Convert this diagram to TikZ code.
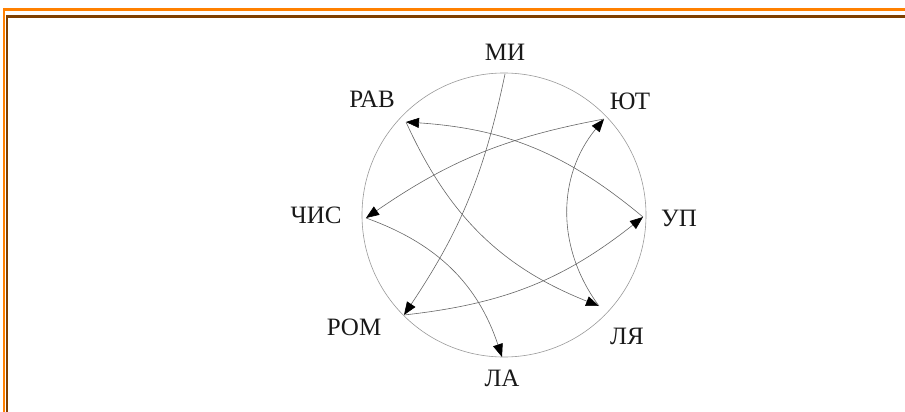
\documentclass[tikz,border=0pt]{standalone}
\usepackage{fontspec}
\setmainfont{Liberation Serif}
\usetikzlibrary{arrows.meta}
\definecolor{frameorange}{HTML}{FF8000}
\definecolor{framebrown}{HTML}{7F4000}

\begin{document}
\begin{tikzpicture}[x=1pt,y=-1pt,
    lbl/.style={font=\fontsize{25}{30}\selectfont, text=black!90, inner sep=0pt},
    rel/.style={draw=black!60, line width=0.6pt, -{Triangle[length=13pt,width=10pt,color=black]}}]
    \useasboundingbox (0,0) rectangle (905,412);
    % frame
    \draw[frameorange, line width=2.6pt] (905,9.3) -- (3.3,9.3);
    \draw[frameorange, line width=2pt] (4.3,8) -- (4.3,412);
    \draw[framebrown, line width=2.6pt] (905,16.3) -- (5.7,16.3);
    \draw[framebrown, line width=2pt] (6.7,15) -- (6.7,412);
    % circle
    \draw[black!40, line width=0.6pt] (504,215) circle (142pt);
    % points on the circle
    \coordinate (mi)   at (505,74);
    \coordinate (yut)  at (604,119);
    \coordinate (up)   at (643,217);
    \coordinate (lya)  at (599,306);
    \coordinate (la)   at (502,357);
    \coordinate (rom)  at (404,315);
    \coordinate (chis) at (366,218);
    \coordinate (rav)  at (406,122);
    % labels
    \node[lbl] (miL)   at (505,52)  {МИ};
    \node[lbl] (yutL)  at (630,101) {ЮТ};
    \node[lbl] (upL)   at (679,218) {УП};
    \node[lbl] (lyaL)  at (627,336) {ЛЯ};
    \node[lbl] (laL)   at (502,378) {ЛА};
    \node[lbl] (romL)  at (354,327) {РОМ};
    \node[lbl] (chisL) at (316,215) {ЧИС};
    \node[lbl] (ravL)  at (372,99)  {РАВ};
    % relations
    \draw[rel] (mi) to[bend left=11] (rom);
    \draw[rel] (rom) to[bend right=16] (up);
    \draw[rel] (up) to[bend right=18] (rav);
    \draw[rel] (rav) to[bend right=22] (lya);
    \draw[rel] (lya) to[bend left=38] (yut);
    \draw[rel] (yut) to[bend right=12] (chis);
    \draw[rel] (chis) to[bend left=26] (la);
\end{tikzpicture}
\end{document}
